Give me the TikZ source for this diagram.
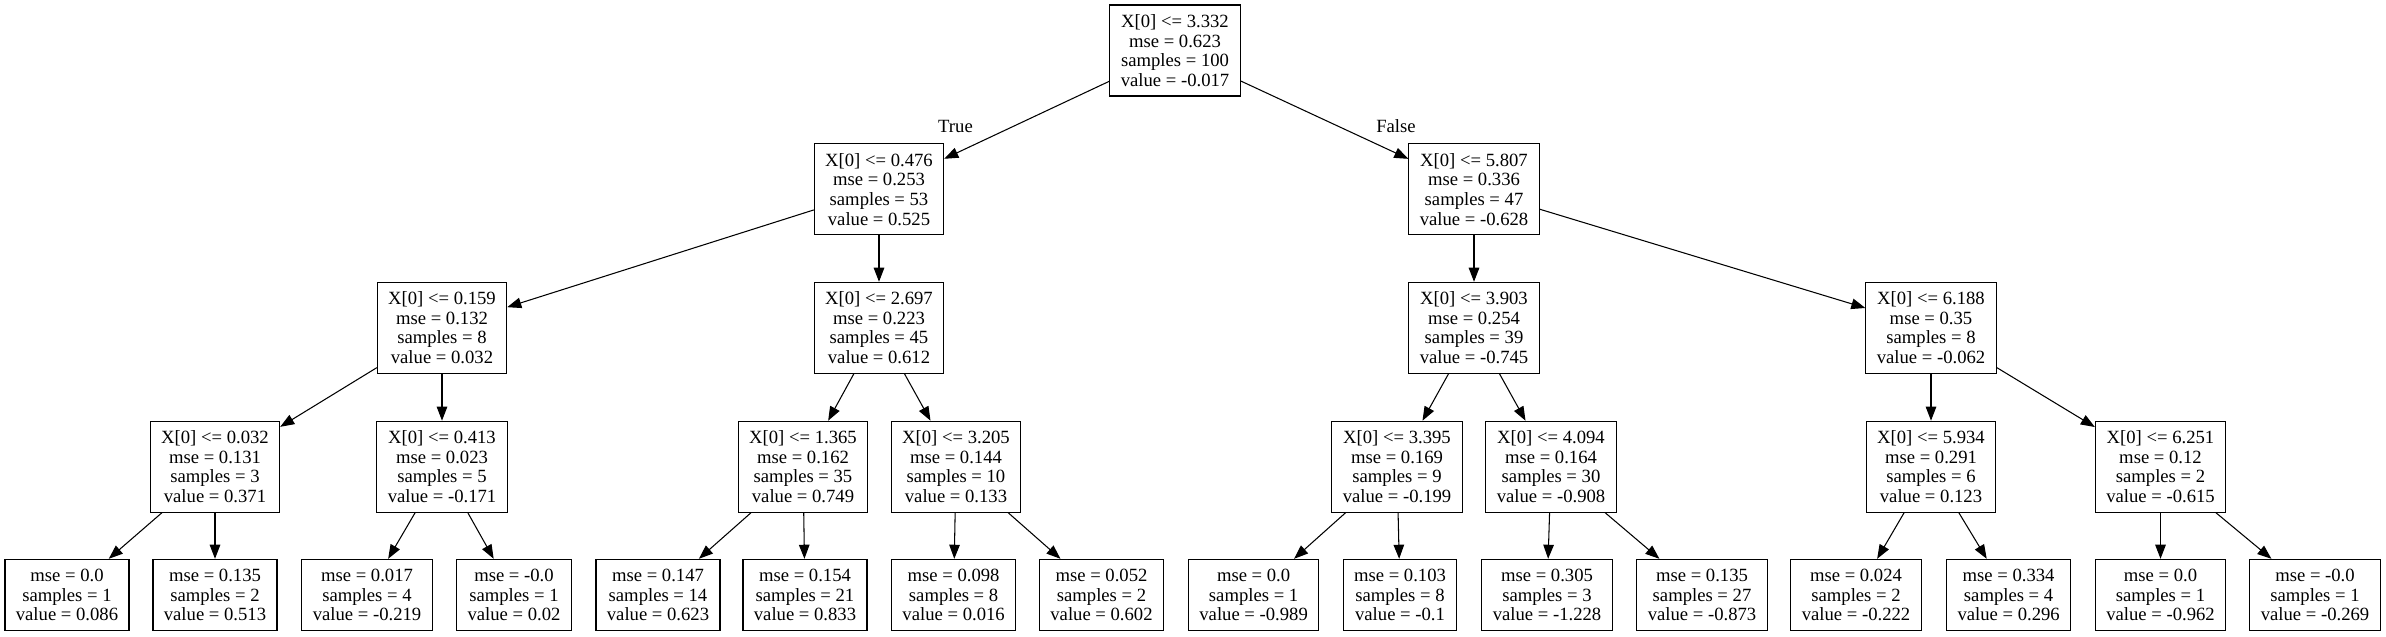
\documentclass[tikz,border=0pt]{standalone}
\usepackage{fontspec}
\setmainfont{Liberation Serif}
\usetikzlibrary{arrows.meta}

\begin{document}
\begin{tikzpicture}[x=0.02cm, y=-0.02cm,
    treebox/.style={draw, line width=0.6pt, align=center, inner xsep=6.2pt, inner ysep=0pt,
        font=\fontsize{10.62pt}{11.2pt}\selectfont},
    splitbox/.style={treebox, minimum height=1.82cm},
    leafbox/.style={treebox, minimum height=1.428cm},
    edgearrow/.style={-{Triangle[length=8pt,width=6pt]}, line width=0.6pt},
    edgelbl/.style={font=\fontsize{10.62pt}{11.2pt}\selectfont, inner sep=0pt}]
    \useasboundingbox (0,0) rectangle (2386,636);

    % Root and first split
    \node[splitbox] (root) at (1175,50.5) {X[0] <= 3.332\\mse = 0.623\\samples = 100\\value = -0.017};
    \node[splitbox] (n1) at (879,189.3) {X[0] <= 0.476\\mse = 0.253\\samples = 53\\value = 0.525};
    \node[splitbox] (n2) at (1474,189.3) {X[0] <= 5.807\\mse = 0.336\\samples = 47\\value = -0.628};

    % Depth 2
    \node[splitbox] (n3) at (442,327.8) {X[0] <= 0.159\\mse = 0.132\\samples = 8\\value = 0.032};
    \node[splitbox] (n4) at (879,327.8) {X[0] <= 2.697\\mse = 0.223\\samples = 45\\value = 0.612};
    \node[splitbox] (n5) at (1474,327.8) {X[0] <= 3.903\\mse = 0.254\\samples = 39\\value = -0.745};
    \node[splitbox] (n6) at (1931,327.8) {X[0] <= 6.188\\mse = 0.35\\samples = 8\\value = -0.062};

    % Depth 3
    \node[splitbox] (n7) at (215,466.7) {X[0] <= 0.032\\mse = 0.131\\samples = 3\\value = 0.371};
    \node[splitbox] (n8) at (442,466.7) {X[0] <= 0.413\\mse = 0.023\\samples = 5\\value = -0.171};
    \node[splitbox] (n9) at (803,466.7) {X[0] <= 1.365\\mse = 0.162\\samples = 35\\value = 0.749};
    \node[splitbox] (n10) at (956,466.7) {X[0] <= 3.205\\mse = 0.144\\samples = 10\\value = 0.133};
    \node[splitbox] (n11) at (1397,466.7) {X[0] <= 3.395\\mse = 0.169\\samples = 9\\value = -0.199};
    \node[splitbox] (n12) at (1551,466.7) {X[0] <= 4.094\\mse = 0.164\\samples = 30\\value = -0.908};
    \node[splitbox] (n13) at (1931,466.7) {X[0] <= 5.934\\mse = 0.291\\samples = 6\\value = 0.123};
    \node[splitbox] (n14) at (2160.5,466.7) {X[0] <= 6.251\\mse = 0.12\\samples = 2\\value = -0.615};

    % Leaves
    \node[leafbox] (l1) at (67,595) {mse = 0.0\\samples = 1\\value = 0.086};
    \node[leafbox] (l2) at (215,595) {mse = 0.135\\samples = 2\\value = 0.513};
    \node[leafbox] (l3) at (367,595) {mse = 0.017\\samples = 4\\value = -0.219};
    \node[leafbox] (l4) at (514,595) {mse = -0.0\\samples = 1\\value = 0.02};
    \node[leafbox] (l5) at (658,595) {mse = 0.147\\samples = 14\\value = 0.623};
    \node[leafbox] (l6) at (805,595) {mse = 0.154\\samples = 21\\value = 0.833};
    \node[leafbox] (l7) at (953.6,595) {mse = 0.098\\samples = 8\\value = 0.016};
    \node[leafbox] (l8) at (1101.5,595) {mse = 0.052\\samples = 2\\value = 0.602};
    \node[leafbox] (l9) at (1253.6,595) {mse = 0.0\\samples = 1\\value = -0.989};
    \node[leafbox] (l10) at (1400,595) {mse = 0.103\\samples = 8\\value = -0.1};
    \node[leafbox] (l11) at (1547,595) {mse = 0.305\\samples = 3\\value = -1.228};
    \node[leafbox] (l12) at (1702,595) {mse = 0.135\\samples = 27\\value = -0.873};
    \node[leafbox] (l13) at (1856,595) {mse = 0.024\\samples = 2\\value = -0.222};
    \node[leafbox] (l14) at (2008.6,595) {mse = 0.334\\samples = 4\\value = 0.296};
    \node[leafbox] (l15) at (2160.5,595) {mse = 0.0\\samples = 1\\value = -0.962};
    \node[leafbox] (l16) at (2315,595) {mse = -0.0\\samples = 1\\value = -0.269};

    % Edges
    \draw[edgearrow] (root) -- (n1);
    \draw[edgearrow] (root) -- (n2);
    \node[edgelbl] (truelbl) at (955.5,126.5) {True};
    \node[edgelbl] (falselbl) at (1396,126.5) {False};

    \draw[edgearrow] (n1) -- (n3);
    \draw[edgearrow] (n1) -- (n4);
    \draw[edgearrow] (n2) -- (n5);
    \draw[edgearrow] (n2) -- (n6);

    \draw[edgearrow] (n3) -- (n7);
    \draw[edgearrow] (n3) -- (n8);
    \draw[edgearrow] (n4) -- (n9);
    \draw[edgearrow] (n4) -- (n10);
    \draw[edgearrow] (n5) -- (n11);
    \draw[edgearrow] (n5) -- (n12);
    \draw[edgearrow] (n6) -- (n13);
    \draw[edgearrow] (n6) -- (n14);

    \draw[edgearrow] (n7) -- (l1);
    \draw[edgearrow] (n7) -- (l2);
    \draw[edgearrow] (n8) -- (l3);
    \draw[edgearrow] (n8) -- (l4);
    \draw[edgearrow] (n9) -- (l5);
    \draw[edgearrow] (n9) -- (l6);
    \draw[edgearrow] (n10) -- (l7);
    \draw[edgearrow] (n10) -- (l8);
    \draw[edgearrow] (n11) -- (l9);
    \draw[edgearrow] (n11) -- (l10);
    \draw[edgearrow] (n12) -- (l11);
    \draw[edgearrow] (n12) -- (l12);
    \draw[edgearrow] (n13) -- (l13);
    \draw[edgearrow] (n13) -- (l14);
    \draw[edgearrow] (n14) -- (l15);
    \draw[edgearrow] (n14) -- (l16);
\end{tikzpicture}
\end{document}
